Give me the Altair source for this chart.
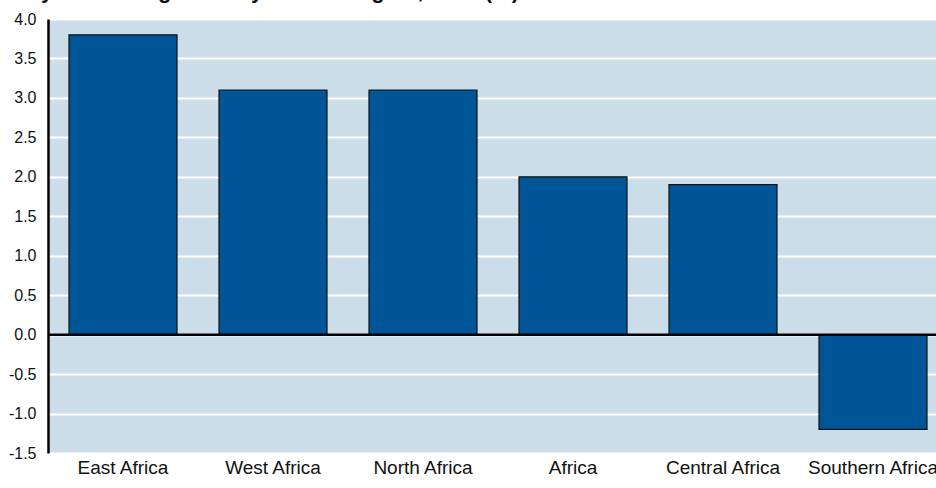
import altair as alt
import pandas as pd

regions = ["East Africa", "West Africa", "North Africa", "Africa", "Central Africa", "Southern Africa"]
growth = [3.8, 3.1, 3.1, 2.0, 1.9, -1.2]
y_ticks = [-1.5, -1.0, -0.5, 0.0, 0.5, 1.0, 1.5, 2.0, 2.5, 3.0, 3.5, 4.0]
title_text = "Yearly real GDP growth by African region, 2016 (%)"

df = pd.DataFrame({"region": regions, "growth": growth})
zero = pd.DataFrame({"v": [0.0]})

FONT = "Liberation Sans"
Y_DOMAIN = [-1.5, 4.0]

x_enc = alt.X(
    "region:N",
    sort=regions,
    scale=alt.Scale(range=[0, 900], paddingInner=0.28, paddingOuter=0.14),
    axis=alt.Axis(
        title=None, labelAngle=0, ticks=False, domain=False,
        labelFont=FONT, labelFontSize=19, labelColor="#111111", labelPadding=5,
        labelOverlap=False,
    ),
)

def y_axis():
    return alt.Axis(
        title=None, values=y_ticks, ticks=False, labelOverlap=False,
        labelExpr="datum.value < 0 ? '-' + format(-datum.value, '.1f') : format(datum.value, '.1f')",
        labelFont=FONT, labelFontSize=16, labelColor="#111111", labelPadding=12,
        domain=True, domainColor="#000000", domainWidth=2.5,
        grid=True, gridColor="#ffffff", gridWidth=2, gridOpacity=1,
    )

y_scale = alt.Scale(domain=Y_DOMAIN, nice=False, zero=False)

bars = alt.Chart(df).mark_bar(
    color="#005596", stroke="#111111", strokeWidth=1.2
).encode(x=x_enc, y=alt.Y("growth:Q", scale=y_scale, axis=y_axis()))

rule = alt.Chart(zero).mark_rule(color="#000000", strokeWidth=2.5).encode(
    y=alt.Y("v:Q", scale=y_scale, axis=y_axis()),
    x=alt.value(0), x2=alt.value(888),
)

chart = alt.layer(bars, rule).properties(
    width=888, height=434,
    padding={"left": 48, "top": 19, "right": 0, "bottom": 35},
    autosize=alt.AutoSizeParams(type="none"),
    background="#ffffff",
    title=alt.TitleParams(
        title_text, anchor="start", font=FONT, fontSize=22, fontWeight="bold",
        color="#111111", offset=0, dx=-20, dy=-8,
    ),
).configure_view(fill="#cbdde9", stroke=None)

chart.save("out.html", embed_options={"renderer": "svg", "actions": False})
